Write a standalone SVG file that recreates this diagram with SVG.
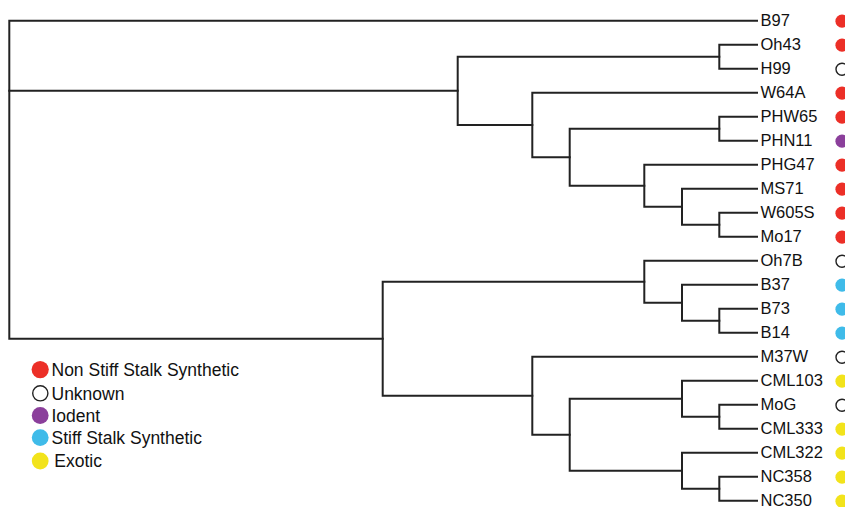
<svg xmlns="http://www.w3.org/2000/svg" width="845" height="507" viewBox="0 0 845 507">
<style>
.edge{fill:none;stroke:#222;stroke-width:2;stroke-linecap:square}
.lbl{font-family:"Liberation Sans",Arial,sans-serif;font-size:16.5px;fill:#111}
.leg{font-family:"Liberation Sans",Arial,sans-serif;font-size:17.5px;fill:#111}
.nss{fill:#ec2f27}
.unk{fill:#fff;stroke:#222;stroke-width:1.4}
.iod{fill:#8b3f9b}
.sss{fill:#3fbbe9}
.exo{fill:#f2e31b}
</style>
<rect width="845" height="507" fill="#fff"/>
<g id="connectors">
<path class="edge" d="M757 20.7 H9.3 V338.7 H382.7"/>
<path class="edge" d="M9.3 90.8 H457.7"/>
<path class="edge" d="M719.3 56.7 H457.7 V125 H532.3"/>
<path class="edge" d="M757 44.7 H719.3 V68.7 H757"/>
<path class="edge" d="M757 92.7 H532.3 V157.2 H569.7"/>
<path class="edge" d="M719.3 128.7 H569.7 V185.7 H644.3"/>
<path class="edge" d="M757 116.7 H719.3 V140.7 H757"/>
<path class="edge" d="M757 164.7 H644.3 V206.7 H682"/>
<path class="edge" d="M757 188.7 H682 V224.7 H719.3"/>
<path class="edge" d="M757 212.7 H719.3 V236.7 H757"/>
<path class="edge" d="M644.3 281.7 H382.7 V395.7 H532.3"/>
<path class="edge" d="M757 260.7 H644.3 V302.7 H682"/>
<path class="edge" d="M757 284.7 H682 V320.7 H719.3"/>
<path class="edge" d="M757 308.7 H719.3 V332.7 H757"/>
<path class="edge" d="M757 356.7 H532.3 V434.7 H569.7"/>
<path class="edge" d="M682 398.7 H569.7 V470.7 H682"/>
<path class="edge" d="M757 380.7 H682 V416.7 H719.3"/>
<path class="edge" d="M757 404.7 H719.3 V428.7 H757"/>
<path class="edge" d="M757 452.7 H682 V488.7 H719.3"/>
<path class="edge" d="M757 476.7 H719.3 V500.7 H757"/>
</g>
<g id="leaf-B97"><text class="lbl" x="760.5" y="26.4">B97</text><circle class="nss" cx="842" cy="21.2" r="6.6"/></g>
<g id="leaf-Oh43"><text class="lbl" x="760.5" y="50.4">Oh43</text><circle class="nss" cx="842" cy="45.2" r="6.6"/></g>
<g id="leaf-H99"><text class="lbl" x="760.5" y="74.4">H99</text><circle class="unk" cx="842" cy="69.2" r="6"/></g>
<g id="leaf-W64A"><text class="lbl" x="760.5" y="98.4">W64A</text><circle class="nss" cx="842" cy="93.2" r="6.6"/></g>
<g id="leaf-PHW65"><text class="lbl" x="760.5" y="122.4">PHW65</text><circle class="nss" cx="842" cy="117.2" r="6.6"/></g>
<g id="leaf-PHN11"><text class="lbl" x="760.5" y="146.4">PHN11</text><circle class="iod" cx="842" cy="141.2" r="6.6"/></g>
<g id="leaf-PHG47"><text class="lbl" x="760.5" y="170.4">PHG47</text><circle class="nss" cx="842" cy="165.2" r="6.6"/></g>
<g id="leaf-MS71"><text class="lbl" x="760.5" y="194.4">MS71</text><circle class="nss" cx="842" cy="189.2" r="6.6"/></g>
<g id="leaf-W605S"><text class="lbl" x="760.5" y="218.4">W605S</text><circle class="nss" cx="842" cy="213.2" r="6.6"/></g>
<g id="leaf-Mo17"><text class="lbl" x="760.5" y="242.4">Mo17</text><circle class="nss" cx="842" cy="237.2" r="6.6"/></g>
<g id="leaf-Oh7B"><text class="lbl" x="760.5" y="266.4">Oh7B</text><circle class="unk" cx="842" cy="261.2" r="6"/></g>
<g id="leaf-B37"><text class="lbl" x="760.5" y="290.4">B37</text><circle class="sss" cx="842" cy="285.2" r="6.6"/></g>
<g id="leaf-B73"><text class="lbl" x="760.5" y="314.4">B73</text><circle class="sss" cx="842" cy="309.2" r="6.6"/></g>
<g id="leaf-B14"><text class="lbl" x="760.5" y="338.4">B14</text><circle class="sss" cx="842" cy="333.2" r="6.6"/></g>
<g id="leaf-M37W"><text class="lbl" x="760.5" y="362.4">M37W</text><circle class="unk" cx="842" cy="357.2" r="6"/></g>
<g id="leaf-CML103"><text class="lbl" x="760.5" y="386.4">CML103</text><circle class="exo" cx="842" cy="381.2" r="6.6"/></g>
<g id="leaf-MoG"><text class="lbl" x="760.5" y="410.4">MoG</text><circle class="unk" cx="842" cy="405.2" r="6"/></g>
<g id="leaf-CML333"><text class="lbl" x="760.5" y="434.4">CML333</text><circle class="exo" cx="842" cy="429.2" r="6.6"/></g>
<g id="leaf-CML322"><text class="lbl" x="760.5" y="458.4">CML322</text><circle class="exo" cx="842" cy="453.2" r="6.6"/></g>
<g id="leaf-NC358"><text class="lbl" x="760.5" y="482.4">NC358</text><circle class="exo" cx="842" cy="477.2" r="6.6"/></g>
<g id="leaf-NC350"><text class="lbl" x="760.5" y="505.6">NC350</text><circle class="exo" cx="842" cy="501.2" r="6.6"/></g>
<g id="legend">
<circle class="nss" cx="40.2" cy="369.6" r="8.6"/><text class="leg" x="51.5" y="376">Non Stiff Stalk Synthetic</text>
<circle class="unk" cx="40.3" cy="393.3" r="7.6"/><text class="leg" x="51.5" y="399.6">Unknown</text>
<circle class="iod" cx="40.2" cy="415.5" r="8.4"/><text class="leg" x="51.5" y="421.8">Iodent</text>
<circle class="sss" cx="40.2" cy="437.6" r="8.4"/><text class="leg" x="51.5" y="444">Stiff Stalk Synthetic</text>
<circle class="exo" cx="40.2" cy="461" r="8.4"/><text class="leg" x="54.3" y="467.4">Exotic</text>
</g>
</svg>
